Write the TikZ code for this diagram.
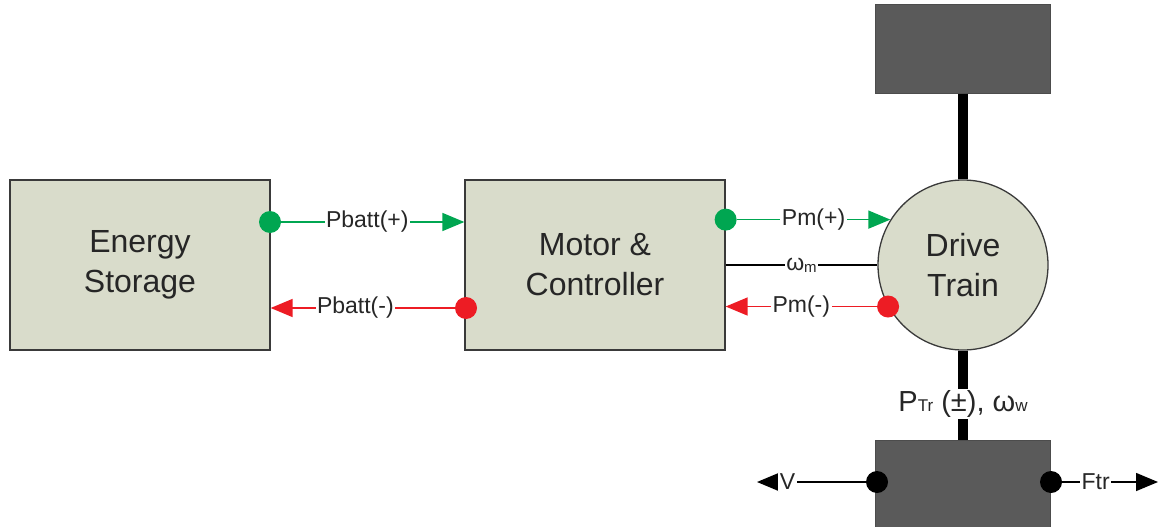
\documentclass[tikz,border=0pt]{standalone}
\usepackage{fontspec}
\setmainfont{Liberation Sans}
\usetikzlibrary{arrows.meta}
\definecolor{dtblock}{HTML}{D9DCCB}
\definecolor{dtedge}{HTML}{3A3A3A}
\definecolor{dtmass}{HTML}{5A5A5A}
\definecolor{dtgreen}{HTML}{00A651}
\definecolor{dtred}{HTML}{ED1C24}
\definecolor{dtink}{HTML}{262626}

\begin{document}
\begin{tikzpicture}[x=1pt, y=-1pt, text=dtink,
    block/.style={rectangle, draw=dtedge, line width=1.3pt, fill=dtblock, minimum width=260pt, minimum height=170pt, align=center, font=\fontsize{32}{40}\selectfont},
    train/.style={circle, draw=dtedge, line width=1.3pt, fill=dtblock, minimum size=170pt, inner sep=0pt, align=center, font=\fontsize{32}{40}\selectfont},
    mass/.style={rectangle, draw=dtmass!85!black, line width=1pt, fill=dtmass, minimum width=175pt},
    gdot/.style={circle, fill=dtgreen, inner sep=0pt, minimum size=22pt},
    rdot/.style={circle, fill=dtred, inner sep=0pt, minimum size=22pt},
    kdot/.style={circle, fill=black, inner sep=0pt, minimum size=22pt},
    gflow/.style={draw=dtgreen, line width=1.5pt, -{Triangle[length=22pt, width=18pt]}},
    rflow/.style={draw=dtred, line width=1.5pt, -{Triangle[length=22pt, width=18pt]}},
    kflow/.style={draw=black, line width=1.5pt, -{Triangle[length=22pt, width=18pt]}},
    link/.style={draw=black, line width=1.5pt},
    shaft/.style={draw=black, line width=10pt},
    tag/.style={fill=white, inner sep=1.5pt, font=\fontsize{23}{26}\selectfont},
  ]
  % page frame, in pixels of the reference
  \useasboundingbox (0,0) rectangle (1159,527);
  \clip (0,0) rectangle (1159,527);

  % blocks
  \node[block] (storage) at (140,265) {Energy\\Storage};
  \node[block] (motor) at (595,265) {Motor \&\\Controller};
  \node[train] (drive) at (963,265) {Drive\\Train};
  \node[mass, minimum height=88pt] (load) at (963,49) {};
  \node[mass, minimum height=100pt] (vehicle) at (963,490) {};

  % shafts
  \draw[shaft] (load.south) -- (drive.north);
  \draw[shaft] (drive.south) -- node[tag, pos=0.6, font=\fontsize{29}{30}\selectfont]
    {P{\fontsize{17}{17}\selectfont Tr} (±), ω{\fontsize{17}{17}\selectfont w}} (vehicle.north);

  % ports
  \node[gdot] (battout) at (270,222) {};
  \node[rdot] (battin) at (466,308) {};
  \node[gdot] (motout) at (motor.east |- drive.148.8) {};
  \node[rdot] (motin) at (drive.209.6) {};
  \node[kdot] (vleft) at (877,482) {};
  \node[kdot] (vright) at (1051,482) {};
  \coordinate (vend) at (757,482);
  \coordinate (fend) at (1158,482);

  % power flows
  \draw[gflow] (battout) -- node[tag, pos=0.47] {Pbatt(+)} (motor.west |- battout);
  \draw[rflow] (battin) -- node[tag, pos=0.54] {Pbatt(-)} (storage.east |- battin);
  \draw[gflow] (motout) -- node[tag] {Pm(+)} (drive.148.8);
  \draw[rflow] (motin) -- node[tag] {Pm(-)} (motor.east |- motin);
  \draw[link] (motor) -- node[tag] {ω\raisebox{-2pt}{\fontsize{15}{15}\selectfont m}} (drive);

  % vehicle outputs
  \draw[kflow] (vleft) -- node[tag, pos=0.72] {V} (vend);
  \draw[kflow] (vright) -- node[tag, pos=0.35] {Ftr} (fend);
\end{tikzpicture}
\end{document}
